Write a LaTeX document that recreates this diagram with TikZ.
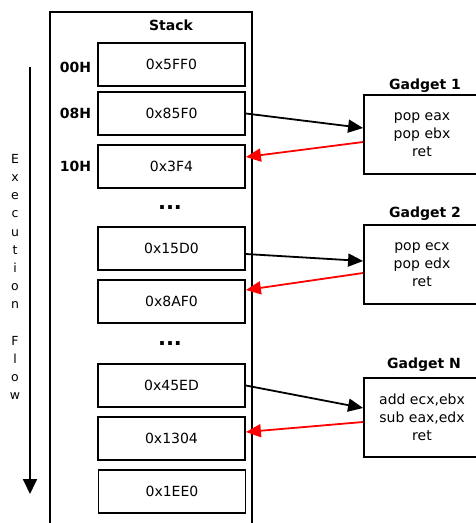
\documentclass[tikz,border=0pt]{standalone}
\usepackage{fontspec}
\setmainfont{DejaVu Sans}
\usetikzlibrary{arrows.meta,calc}
\begin{document}
\begin{tikzpicture}[x=1pt,y=-1pt,
  txt/.style={font=\fontsize{14}{18}\selectfont},
  cell/.style={draw, line width=1.8pt, minimum width=147pt, minimum height=43pt, inner sep=0pt, txt},
  gad/.style={draw, line width=1.8pt, minimum width=116pt, minimum height=79pt, inner sep=0pt, align=center, txt},
  ttl/.style={font=\fontsize{14}{18}\selectfont\bfseries, inner sep=0pt},
  lbl/.style={font=\fontsize{14}{18}\selectfont\bfseries, inner sep=0pt},
  dots/.style={font=\fontsize{21}{21}\selectfont\bfseries, inner sep=0pt},
  call/.style={line width=1.8pt, -{Triangle[length=15pt,width=13pt]}},
  back/.style={line width=1.8pt, red, -{Triangle[length=15pt,width=13pt]}}]
\useasboundingbox (0,0) rectangle (475,523);
% stack frame
\draw[line width=1.8pt] (50,530) -- (50,12) -- (252,12) -- (252,530);
\node[ttl] (stk) at (171,25) {Stack};
% cells
\node[cell] (c1) at (171.5,64.5) {0x5FF0};
\node[cell] (c2) at (171.5,113.5) {0x85F0};
\node[cell] (c3) at (171.5,166.5) {0x3F4};
\node[dots] (d1) at (170,208) {...};
\node[cell] (c4) at (171.5,248.5) {0x15D0};
\node[cell] (c5) at (171.5,301.5) {0x8AF0};
\node[dots] (d2) at (170,344) {...};
\node[cell] (c6) at (171.5,385.5) {0x45ED};
\node[cell] (c7) at (171.5,438.5) {0x1304};
\node[cell] (c8) at (172,491.5) {0x1EE0};
% offsets
\node[lbl] (l1) at (75.5,67) {00H};
\node[lbl] (l2) at (75.5,113) {08H};
\node[lbl] (l3) at (75.5,166) {10H};
% execution flow
\coordinate (ef1) at (30,67);
\coordinate (ef2) at (30,494);
\draw[line width=1.8pt, -{Triangle[length=15pt,width=14pt]}] (ef1) -- (ef2);
\node[align=center, inner sep=0pt, font=\fontsize{12.5}{18.2}\selectfont] (ef) at (15,277)
  {E\\x\\e\\c\\u\\t\\i\\o\\n\\[18.2pt]F\\l\\o\\w};
% gadgets
\node[gad] (g1) at (422,134.5) {pop eax\\pop ebx\\ret};
\node[ttl] (t1) at (425,86) {Gadget 1};
\node[gad] (g2) at (422,264.5) {pop ecx\\pop edx\\ret};
\node[ttl] (t2) at (425,214) {Gadget 2};
\node[gad] (g3) at (422,417.5) {add ecx,ebx\\sub eax,edx\\ret};
\node[ttl] (t3) at (424,365) {Gadget N};
% connectors
\draw[call] (c2.east) -- ($(g1.west)+(0,-6.5)$);
\draw[back] ($(g1.west)+(0,7.5)$) -- ($(c3.east)+(0,-9.5)$);
\draw[call] ($(c4.east)+(0,5.5)$) -- ($(g2.west)+(0,-3.5)$);
\draw[back] ($(g2.west)+(0,8.5)$) -- ($(c5.east)+(0,-11.5)$);
\draw[call] (c6.east) -- ($(g3.west)+(0,-9.5)$);
\draw[back] ($(g3.west)+(0,4.5)$) -- ($(c7.east)+(0,-6.5)$);
\end{tikzpicture}
\end{document}
